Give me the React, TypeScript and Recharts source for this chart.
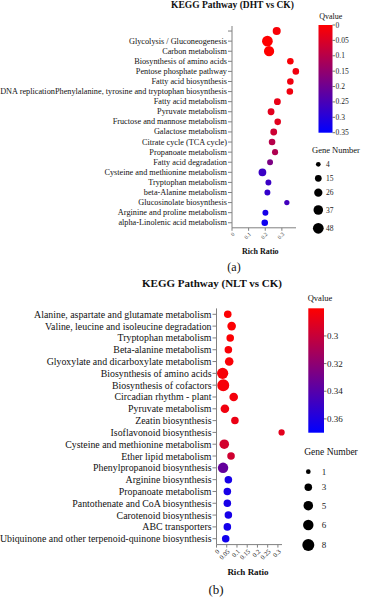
import React from 'react';
import { ScatterChart, Scatter, XAxis, YAxis, ZAxis, Cell } from 'recharts';

// ---------- Panel (a): DHT vs CK ----------
const pathwaysA = [
  ' ',
  'Glycolysis / Gluconeogenesis',
  'Carbon metabolism',
  'Biosynthesis of amino acids',
  'Pentose phosphate pathway',
  'Fatty acid biosynthesis',
  'DNA replicationPhenylalanine, tyrosine and tryptophan biosynthesis',
  'Fatty acid metabolism',
  'Pyruvate metabolism',
  'Fructose and mannose metabolism',
  'Galactose metabolism',
  'Citrate cycle (TCA cycle)',
  'Propanoate metabolism',
  'Fatty acid degradation',
  'Cysteine and methionine metabolism',
  'Tryptophan metabolism',
  'beta-Alanine metabolism',
  'Glucosinolate biosynthesis',
  'Arginine and proline metabolism',
  'alpha-Linolenic acid metabolism',
];
const richRatioA = [0.269, 0.213, 0.223, 0.351, 0.384, 0.351, 0.348, 0.273, 0.235, 0.275, 0.251, 0.241, 0.259, 0.229, 0.183, 0.219, 0.213, 0.33, 0.201, 0.197];
const geneNumberA = [26, 52, 47, 15, 15, 15, 15, 17, 17, 15, 17, 15, 12, 11, 24, 11, 11, 7, 11, 15];
const qvalueA = [0.01, 0.0, 0.0, 0.01, 0.02, 0.02, 0.02, 0.03, 0.04, 0.04, 0.07, 0.1, 0.11, 0.18, 0.27, 0.27, 0.28, 0.26, 0.32, 0.33];
const xTicksA = [0, 0.1, 0.2, 0.3];
const qTicksA = [0, 0.05, 0.1, 0.15, 0.2, 0.25, 0.3, 0.35];
const geneLegendA = [4, 15, 26, 37, 48];

// ---------- Panel (b): NLT vs CK ----------
const pathwaysB = [
  'Alanine, aspartate and glutamate metabolism',
  'Valine, leucine and isoleucine degradation',
  'Tryptophan metabolism',
  'Beta-alanine metabolism',
  'Glyoxylate and dicarboxylate metabolism',
  'Biosynthesis of amino acids',
  'Biosynthesis of cofactors',
  'Circadian rhythm - plant',
  'Pyruvate metabolism',
  'Zeatin biosynthesis',
  'Isoflavonoid biosynthesis',
  'Cysteine and methionine metabolism',
  'Ether lipid metabolism',
  'Phenylpropanoid biosynthesis',
  'Arginine biosynthesis',
  'Propanoate metabolism',
  'Pantothenate and CoA biosynthesis',
  'Carotenoid biosynthesis',
  'ABC transporters',
  'Ubiquinone and other terpenoid-quinone biosynthesis',
];
const richRatioB = [0.055, 0.074, 0.067, 0.058, 0.062, 0.03, 0.033, 0.084, 0.041, 0.09, 0.318, 0.038, 0.071, 0.032, 0.058, 0.053, 0.053, 0.058, 0.053, 0.045];
const geneNumberB = [3, 4, 3, 3, 4, 7, 8, 4, 4, 3, 2, 5, 3, 6, 3, 3, 3, 3, 3, 3];
const qvalueB = [0.281, 0.281, 0.281, 0.282, 0.282, 0.283, 0.283, 0.284, 0.285, 0.287, 0.29, 0.296, 0.297, 0.335, 0.362, 0.362, 0.362, 0.362, 0.363, 0.364];
const xTicksB = [0, 0.05, 0.1, 0.15, 0.2, 0.25, 0.3];
const qTicksB = [0.3, 0.32, 0.34, 0.36];
const geneLegendB = [1, 3, 5, 6, 8];

const SERIF = 'Liberation Serif, Times New Roman, serif';
const AXIS = '#808080';

function qColor(q: number, min: number, max: number) {
  let t = (q - min) / (max - min);
  t = Math.max(0, Math.min(1, t));
  const r = Math.round(255 * (1 - t));
  const b = Math.round(255 * t);
  return `rgb(${r},0,${b})`;
}

function sizeToRadius(g: number, dom: number[], rng: number[]) {
  const area = rng[0] + ((g - dom[0]) / (dom[1] - dom[0])) * (rng[1] - rng[0]);
  return Math.sqrt(area / Math.PI);
}

type PanelCfg = {
  pathways: string[];
  rich: number[];
  gene: number[];
  q: number[];
  xTicks: number[];
  xDomain: number[];
  qDomain: number[];
  zDomain: number[];
  zRange: number[];
  top: number;
  height: number;
  margin: { top: number; right: number; bottom: number; left: number };
  yWidth: number;
  yFont: number;
  xFont: number;
};

function makeYTick(fontSize: number) {
  return (props: any) => {
    const { x, y, payload } = props;
    return (
      <text x={x} y={y} textAnchor="end" dominantBaseline="central" fontSize={fontSize} fontFamily={SERIF} fill="#111">
        {payload.value}
      </text>
    );
  };
}

function makeXTick(fontSize: number) {
  return (props: any) => {
    const { x, y, payload } = props;
    return (
      <text
        x={x}
        y={y}
        textAnchor="end"
        dominantBaseline="hanging"
        fontSize={fontSize}
        fontFamily={SERIF}
        fill="#222"
        transform={`rotate(-45, ${x}, ${y})`}
      >
        {String(payload.value)}
      </text>
    );
  };
}

function Panel({ cfg }: { cfg: PanelCfg }) {
  const rows = cfg.pathways.map((name, i) => ({ name, rich: cfg.rich[i], gene: cfg.gene[i], q: cfg.q[i] }));
  return (
    <div style={{ position: 'absolute', left: 0, top: cfg.top, width: 365, height: cfg.height }}>
      <ScatterChart width={365} height={cfg.height} margin={cfg.margin}>
        <XAxis
          type="number"
          dataKey="rich"
          domain={cfg.xDomain}
          ticks={cfg.xTicks}
          interval={0}
          height={20}
          stroke={AXIS}
          tickSize={3}
          tickMargin={1}
          tick={makeXTick(cfg.xFont)}
        />
        <YAxis
          type="category"
          dataKey="name"
          width={cfg.yWidth}
          reversed
          interval={0}
          allowDuplicatedCategory={false}
          stroke={AXIS}
          tickSize={4}
          tickMargin={1}
          tick={makeYTick(cfg.yFont)}
        />
        <ZAxis type="number" dataKey="gene" domain={cfg.zDomain} range={cfg.zRange} />
        <Scatter data={rows} isAnimationActive={false} shape="circle">
          {rows.map((r, i) => (
            <Cell key={i} fill={qColor(r.q, cfg.qDomain[0], cfg.qDomain[1])} />
          ))}
        </Scatter>
      </ScatterChart>
    </div>
  );
}

const cfgA: PanelCfg = {
  pathways: pathwaysA,
  rich: richRatioA,
  gene: geneNumberA,
  q: qvalueA,
  xTicks: xTicksA,
  xDomain: [0, 0.385],
  qDomain: [0, 0.35],
  zDomain: [4, 48],
  zRange: [17.3, 90],
  top: 0,
  height: 260,
  margin: { top: 26, right: 69, bottom: 12.2, left: 0 },
  yWidth: 232,
  yFont: 8.25,
  xFont: 5.5,
};

const cfgB: PanelCfg = {
  pathways: pathwaysB,
  rich: richRatioB,
  gene: geneNumberB,
  q: qvalueB,
  xTicks: xTicksB,
  xDomain: [0, 0.32],
  qDomain: [0.28, 0.37],
  zDomain: [1, 8],
  zRange: [17.3, 113],
  top: 270,
  height: 310,
  margin: { top: 38.4, right: 83, bottom: 15.4, left: 0 },
  yWidth: 216.5,
  yFont: 9.85,
  xFont: 6.5,
};

type LegendCfg = {
  qDomain: number[];
  qTicks: number[];
  barX: number;
  barW: number;
  barY0: number;
  barY1: number;
  qTitle: [number, number];
  qFont: number;
  qTitleFont: number;
  gTitle: [number, number];
  gTitleFont: number;
  gLegend: number[];
  gYs: number[];
  gX: number;
  gLabelX: number;
  gFont: number;
  zDomain: number[];
  zRange: number[];
  id: string;
};

function Legends({ c }: { c: LegendCfg }) {
  const yOf = (q: number) => c.barY0 + ((q - c.qDomain[0]) / (c.qDomain[1] - c.qDomain[0])) * (c.barY1 - c.barY0);
  return (
    <g>
      <defs>
        <linearGradient id={c.id} x1="0" y1="0" x2="0" y2="1">
          <stop offset="0%" stopColor="rgb(255,0,0)" />
          <stop offset="50%" stopColor="rgb(128,0,128)" />
          <stop offset="100%" stopColor="rgb(0,0,255)" />
        </linearGradient>
      </defs>
      <text x={c.qTitle[0]} y={c.qTitle[1]} textAnchor="middle" dominantBaseline="central" fontSize={c.qTitleFont} fontFamily={SERIF} fill="#111">
        Qvalue
      </text>
      <rect x={c.barX} y={c.barY0} width={c.barW} height={c.barY1 - c.barY0} fill={`url(#${c.id})`} />
      {c.qTicks.map((t) => (
        <g key={t}>
          <line x1={c.barX + c.barW} x2={c.barX + c.barW + 2.5} y1={yOf(t)} y2={yOf(t)} stroke="#333" strokeWidth={0.7} />
          <text x={c.barX + c.barW + 3} y={yOf(t)} dominantBaseline="central" fontSize={c.qFont} fontFamily={SERIF} fill="#222">
            {String(t)}
          </text>
        </g>
      ))}
      <text x={c.gTitle[0]} y={c.gTitle[1]} textAnchor="middle" dominantBaseline="central" fontSize={c.gTitleFont} fontFamily={SERIF} fill="#111">
        Gene Number
      </text>
      {c.gLegend.map((g, i) => (
        <g key={g}>
          <circle cx={c.gX} cy={c.gYs[i]} r={sizeToRadius(g, c.zDomain, c.zRange)} fill="#000" />
          <text x={c.gLabelX} y={c.gYs[i]} dominantBaseline="central" fontSize={c.gFont} fontFamily={SERIF} fill="#222">
            {String(g)}
          </text>
        </g>
      ))}
    </g>
  );
}

const legA: LegendCfg = {
  qDomain: [0, 0.35],
  qTicks: qTicksA,
  barX: 318.5,
  barW: 14,
  barY0: 25,
  barY1: 132.7,
  qTitle: [330.7, 16],
  qFont: 7.5,
  qTitleFont: 8,
  gTitle: [336, 150],
  gTitleFont: 8.5,
  gLegend: geneLegendA,
  gYs: [164.3, 178.3, 192.7, 210, 228.3],
  gX: 318.3,
  gLabelX: 326,
  gFont: 7.5,
  zDomain: cfgA.zDomain,
  zRange: cfgA.zRange,
  id: 'gradA',
};

const legB: LegendCfg = {
  qDomain: [0.28, 0.37],
  qTicks: qTicksB,
  barX: 308.3,
  barW: 15.7,
  barY0: 308.3,
  barY1: 432.7,
  qTitle: [320, 298.3],
  qFont: 9,
  qTitleFont: 8.5,
  gTitle: [331, 452],
  gTitleFont: 9.5,
  gLegend: geneLegendB,
  gYs: [471.7, 487.3, 505.7, 525, 545],
  gX: 308.3,
  gLabelX: 321.7,
  gFont: 9,
  zDomain: cfgB.zDomain,
  zRange: cfgB.zRange,
  id: 'gradB',
};

export default function App() {
  return (
    <div style={{ position: 'absolute', left: 0, top: 0, width: 365, height: 600, background: '#fff', overflow: 'hidden' }}>
      <Panel cfg={cfgA} />
      <Panel cfg={cfgB} />
      <svg width={365} height={600} style={{ position: 'absolute', left: 0, top: 0, pointerEvents: 'none' }}>
        <text x={232.5} y={5} textAnchor="middle" dominantBaseline="central" fontSize={9.5} fontWeight="bold" fontFamily={SERIF} fill="#111">
          KEGG Pathway (DHT vs CK)
        </text>
        <text x={260.3} y={251} textAnchor="middle" dominantBaseline="central" fontSize={8} fontWeight="bold" fontFamily={SERIF} fill="#111">
          Rich Ratio
        </text>
        <text x={234} y={266.7} textAnchor="middle" dominantBaseline="central" fontSize={12} fontFamily={SERIF} fill="#111">
          (a)
        </text>
        <text x={212} y={283.3} textAnchor="middle" dominantBaseline="central" fontSize={11} fontWeight="bold" fontFamily={SERIF} fill="#111">
          KEGG Pathway (NLT vs CK)
        </text>
        <text x={248} y={571.7} textAnchor="middle" dominantBaseline="central" fontSize={9} fontWeight="bold" fontFamily={SERIF} fill="#111">
          Rich Ratio
        </text>
        <text x={216} y={589.3} textAnchor="middle" dominantBaseline="central" fontSize={13} fontFamily={SERIF} fill="#111">
          (b)
        </text>
        <Legends c={legA} />
        <Legends c={legB} />
      </svg>
    </div>
  );
}
